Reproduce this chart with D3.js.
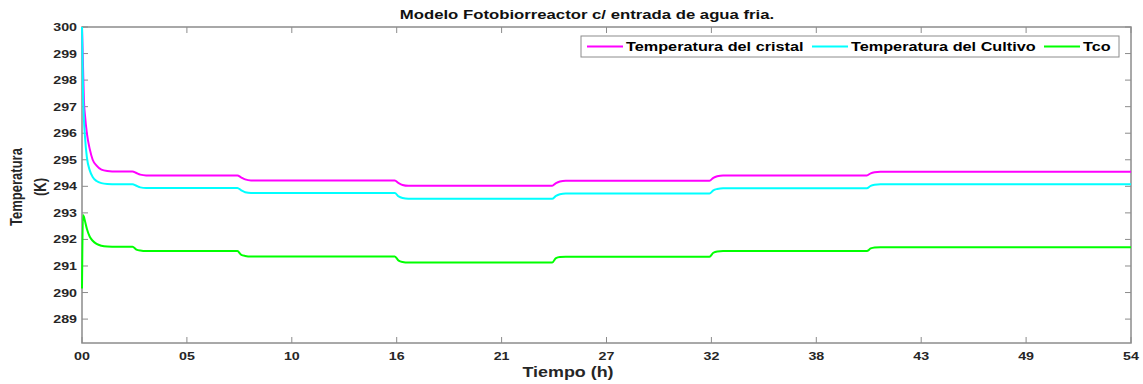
<!DOCTYPE html>
<html>
<head>
<meta charset="utf-8">
<script src="https://cdn.jsdelivr.net/npm/d3@7"></script>
<style>
  body { margin: 0; background: #fff; }
  text { font-family: "Liberation Sans", Arial, sans-serif; }
</style>
</head>
<body>
<div id="chart"></div>
<script>
const hours = [0, 0.05, 0.1, 0.15, 0.25, 0.4, 0.55, 0.75, 1.0, 1.3, 1.8, 2.6, 2.8, 3.0, 3.3,
  8.0, 8.2, 8.4, 8.7, 16.1, 16.3, 16.5, 16.8, 24.2, 24.4, 24.6, 24.9,
  32.3, 32.5, 32.7, 33.0, 40.4, 40.6, 40.8, 41.1, 54];

const tCristal = [300, 298.6, 297.2, 296.7, 296.0, 295.4, 295.0, 294.78, 294.63, 294.58, 294.56, 294.56, 294.5, 294.44, 294.41,
  294.41, 294.33, 294.26, 294.22, 294.22, 294.12, 294.05, 294.02, 294.02, 294.12, 294.18, 294.21,
  294.21, 294.32, 294.38, 294.41, 294.41, 294.49, 294.53, 294.55, 294.55];

const tCultivo = [300, 297.6, 296.5, 295.9, 295.1, 294.6, 294.35, 294.2, 294.12, 294.09, 294.08, 294.08, 294.02, 293.96, 293.94,
  293.94, 293.85, 293.78, 293.75, 293.75, 293.62, 293.56, 293.53, 293.53, 293.64, 293.7, 293.73,
  293.73, 293.85, 293.9, 293.93, 293.93, 294.02, 294.06, 294.08, 294.08];

const tco = [290.15, 292.92, 292.85, 292.7, 292.4, 292.1, 291.95, 291.83, 291.76, 291.73, 291.72, 291.72, 291.62, 291.58, 291.56,
  291.56, 291.42, 291.38, 291.36, 291.36, 291.2, 291.15, 291.13, 291.13, 291.3, 291.34, 291.35,
  291.35, 291.5, 291.55, 291.56, 291.56, 291.66, 291.7, 291.71, 291.71];

const seriesNames = ['Temperatura del cristal', 'Temperatura del Cultivo', 'Tco'];
const seriesColors = ['#ff00ff', '#00ffff', '#00ff00'];

const xTicks = [0, 5.4, 10.8, 16.2, 21.6, 27, 32.4, 37.8, 43.2, 48.6, 54];
const xTickLabels = ['00', '05', '10', '16', '21', '27', '32', '38', '43', '49', '54'];
const yTicks = [289, 290, 291, 292, 293, 294, 295, 296, 297, 298, 299, 300];

const width = 1143;
const height = 384;
const margin = { top: 27, right: 12, bottom: 41, left: 82 };

// the picture is wider than it is tall, so text gets a horizontal stretch
const stretch = 1.24;

const svg = d3.select('#chart')
  .append('svg')
  .attr('width', width)
  .attr('height', height);

const x = d3.scaleLinear()
  .domain([0, 54])
  .range([margin.left, width - margin.right]);

const y = d3.scaleLinear()
  .domain([288.1, 300])
  .range([height - margin.bottom, margin.top]);

const axisColor = '#8c8c8c';
const tickLen = 6;

function label(g, tx, ty, s, txt) {
  return g.append('text')
    .attr('transform', `translate(${tx},${ty}) scale(${s},1)`)
    .text(txt);
}

// box
svg.append('rect')
  .attr('x', x(0))
  .attr('y', y(300))
  .attr('width', x(54) - x(0))
  .attr('height', y(288.1) - y(300))
  .attr('fill', 'none')
  .attr('stroke', axisColor)
  .attr('stroke-width', 1.5);

// x ticks (bottom and top, pointing inward)
const xt = svg.append('g');
xt.selectAll('line.b').data(xTicks).join('line')
  .attr('class', 'b')
  .attr('x1', d => x(d)).attr('x2', d => x(d))
  .attr('y1', y(288.1)).attr('y2', y(288.1) - tickLen)
  .attr('stroke', axisColor);
xt.selectAll('line.t').data(xTicks).join('line')
  .attr('class', 't')
  .attr('x1', d => x(d)).attr('x2', d => x(d))
  .attr('y1', y(300)).attr('y2', y(300) + tickLen)
  .attr('stroke', axisColor);
xt.selectAll('text').data(xTicks).join('text')
  .attr('transform', d => `translate(${x(d)},${y(288.1) + 17}) scale(${stretch},1)`)
  .attr('text-anchor', 'middle')
  .attr('font-size', 11.5)
  .attr('font-weight', 'bold')
  .attr('fill', '#262626')
  .text((d, i) => xTickLabels[i]);

// y ticks (left and right)
const yt = svg.append('g');
yt.selectAll('line.l').data(yTicks).join('line')
  .attr('class', 'l')
  .attr('x1', x(0)).attr('x2', x(0) + tickLen)
  .attr('y1', d => y(d)).attr('y2', d => y(d))
  .attr('stroke', axisColor);
yt.selectAll('line.r').data(yTicks).join('line')
  .attr('class', 'r')
  .attr('x1', x(54)).attr('x2', x(54) - tickLen)
  .attr('y1', d => y(d)).attr('y2', d => y(d))
  .attr('stroke', axisColor);
yt.selectAll('text').data(yTicks).join('text')
  .attr('transform', d => `translate(${x(0) - 5},${y(d) + 4}) scale(${stretch},1)`)
  .attr('text-anchor', 'end')
  .attr('font-size', 11.5)
  .attr('font-weight', 'bold')
  .attr('fill', '#262626')
  .text(d => d);

// lines
const line = d3.line()
  .x((d, i) => x(hours[i]))
  .y(d => y(d))
  .curve(d3.curveMonotoneX);

[tCristal, tCultivo, tco].forEach((vals, k) => {
  svg.append('path')
    .datum(vals)
    .attr('d', line)
    .attr('fill', 'none')
    .attr('stroke', seriesColors[k])
    .attr('stroke-width', 2);
});

// title and labels
label(svg, 587, 19, stretch, 'Modelo Fotobiorreactor c/ entrada de agua fria.')
  .attr('text-anchor', 'middle')
  .attr('font-size', 13.5)
  .attr('font-weight', 'bold')
  .attr('fill', '#111');

label(svg, 568, 377, 1.28, 'Tiempo (h)')
  .attr('text-anchor', 'middle')
  .attr('font-size', 14)
  .attr('font-weight', 'bold')
  .attr('fill', '#262626');

const yl = svg.append('text')
  .attr('transform', 'translate(22,187) rotate(-90) scale(0.93,1.15)')
  .attr('text-anchor', 'middle')
  .attr('font-size', 14)
  .attr('font-weight', 'bold')
  .attr('fill', '#262626');
yl.append('tspan').attr('x', 0).attr('dy', 0).text('Temperatura');
yl.append('tspan').attr('x', 0).attr('dy', 21).text('(K)');

// legend
const lg = svg.append('g');
lg.append('rect')
  .attr('x', 581).attr('y', 36)
  .attr('width', 538).attr('height', 21)
  .attr('fill', '#fff')
  .attr('stroke', '#8c8c8c');

const legendX = [587, 812, 1044];
seriesNames.forEach((name, k) => {
  lg.append('line')
    .attr('x1', legendX[k]).attr('x2', legendX[k] + 36)
    .attr('y1', 46.5).attr('y2', 46.5)
    .attr('stroke', seriesColors[k])
    .attr('stroke-width', 2);
  label(lg, legendX[k] + 39, 51, 1.3, name)
    .attr('font-size', 12.5)
    .attr('font-weight', 'bold')
    .attr('fill', '#000');
});
</script>
</body>
</html>
